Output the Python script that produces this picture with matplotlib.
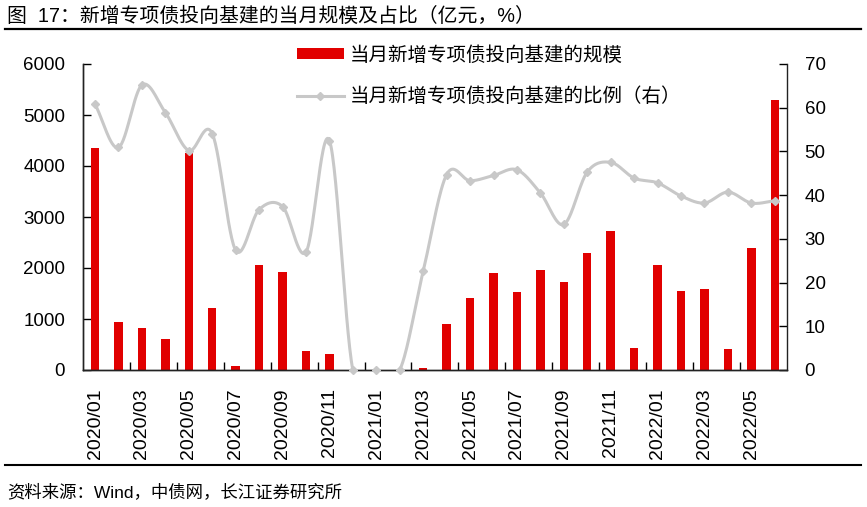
import matplotlib
matplotlib.use("Agg")
import matplotlib.pyplot as plt
import numpy as np
from matplotlib.lines import Line2D

plt.rcParams["font.family"] = ["Liberation Sans", "Noto Sans CJK SC", "DejaVu Sans"]

# ---- data ----
months = [
    "2020/01", "2020/02", "2020/03", "2020/04", "2020/05", "2020/06",
    "2020/07", "2020/08", "2020/09", "2020/10", "2020/11", "2020/12",
    "2021/01", "2021/02", "2021/03", "2021/04", "2021/05", "2021/06",
    "2021/07", "2021/08", "2021/09", "2021/10", "2021/11", "2021/12",
    "2022/01", "2022/02", "2022/03", "2022/04", "2022/05", "2022/06",
]
scale = [
    4350, 940, 830, 615, 4250, 1220,
    80, 2050, 1920, 370, 320, 0,
    0, 0, 35, 900, 1405, 1900,
    1535, 1960, 1725, 2295, 2720, 425,
    2050, 1550, 1590, 405, 2400, 5290,
]
ratio = [
    60.8, 50.9, 65.2, 58.9, 50.2, 54.1,
    27.4, 36.7, 37.4, 27.0, 52.5, 0.0,
    0.0, 0.0, 22.6, 44.7, 43.3, 44.5,
    45.8, 40.5, 33.3, 45.3, 47.5, 43.9,
    42.8, 39.8, 38.2, 40.7, 38.2, 38.7,
]

title = "图  17：新增专项债投向基建的当月规模及占比（亿元，%）"
label_bar = "当月新增专项债投向基建的规模"
label_line = "当月新增专项债投向基建的比例（右）"
source = "资料来源：Wind，中债网，长江证券研究所"

RED = "#E10000"
GREY = "#C8C8C8"


def smooth(xs, ys, n=30):
    # catmull-rom style smoothing, like Excel's smoothed line
    xs = np.asarray(xs, float)
    ys = np.asarray(ys, float)
    m = np.zeros_like(ys)
    m[1:-1] = (ys[2:] - ys[:-2]) / 2.0
    m[0] = ys[1] - ys[0]
    m[-1] = ys[-1] - ys[-2]
    out_x, out_y = [], []
    t = np.linspace(0, 1, n, endpoint=False)
    h00 = 2 * t**3 - 3 * t**2 + 1
    h10 = t**3 - 2 * t**2 + t
    h01 = -2 * t**3 + 3 * t**2
    h11 = t**3 - t**2
    for i in range(len(xs) - 1):
        out_x.append(xs[i] + t * (xs[i + 1] - xs[i]))
        out_y.append(h00 * ys[i] + h10 * m[i] + h01 * ys[i + 1] + h11 * m[i + 1])
    out_x.append([xs[-1]])
    out_y.append([ys[-1]])
    return np.concatenate(out_x), np.concatenate(out_y)


fig = plt.figure(figsize=(8.67, 5.07), dpi=100)
ax = fig.add_axes([83.3 / 867, 1 - 370 / 507, (786.5 - 83.3) / 867, (370 - 64) / 507])
ax2 = ax.twinx()

x = np.arange(len(months))
bars = ax.bar(x, scale, width=0.36, color=RED, label=label_bar, zorder=2)

sx, sy = smooth(x, ratio)
ax2.plot(sx, sy, color=GREY, lw=2.2, solid_capstyle="round", zorder=3)
ax2.plot(x, ratio, ls="none", marker="D", ms=4.5, color=GREY, clip_on=False, zorder=4)
line_handle = Line2D([], [], color=GREY, lw=2.2, marker="D", ms=4.5)

ax.set_xlim(-0.5, len(months) - 0.5)
ax.set_ylim(0, 6000)
ax.set_yticks(np.arange(0, 6001, 1000))
ax2.set_ylim(0, 70)
ax2.set_yticks(np.arange(0, 71, 10))

ax.set_xticks(x[::2])
ax.set_xticklabels(months[::2], rotation=90)
ax.set_xticks(np.arange(1.5, len(months) - 2, 2), minor=True)
ax.tick_params(axis="x", which="major", length=0, pad=13, labelsize=14)
ax.tick_params(axis="x", which="minor", length=6, direction="in", width=1)
ax.tick_params(axis="y", direction="in", length=6, width=1, pad=13, labelsize=13.5)
ax2.tick_params(axis="y", direction="in", length=6, width=1, pad=13, labelsize=13.5)

for a in (ax, ax2):
    a.spines["top"].set_visible(False)
    for s in ("left", "right", "bottom"):
        a.spines[s].set_linewidth(1.0)
        a.spines[s].set_color("#222222")
ax.spines["right"].set_visible(False)

ax2.legend(
    [bars, line_handle], [label_bar, label_line],
    loc="upper left", bbox_to_anchor=(297 / 867, 1 - 46 / 507),
    bbox_transform=fig.transFigure, frameon=False, fontsize=14,
    borderpad=0, handlelength=2.4, handletextpad=0.3, handleheight=0.5,
    labelspacing=1.16, borderaxespad=0,
)

fig.text(7 / 867, 1 - 16.5 / 507, title, fontsize=14.3, va="center", ha="left")
fig.add_artist(Line2D([5 / 867, 861 / 867], [1 - 28.7 / 507] * 2,
                      transform=fig.transFigure, color="black", lw=1.6))
fig.add_artist(Line2D([5 / 867, 861 / 867], [1 - 465.3 / 507] * 2,
                      transform=fig.transFigure, color="black", lw=1.5))
fig.text(7 / 867, 1 - 492 / 507, source, fontsize=12.5, va="center", ha="left")

fig.savefig("out.png", dpi=100)
